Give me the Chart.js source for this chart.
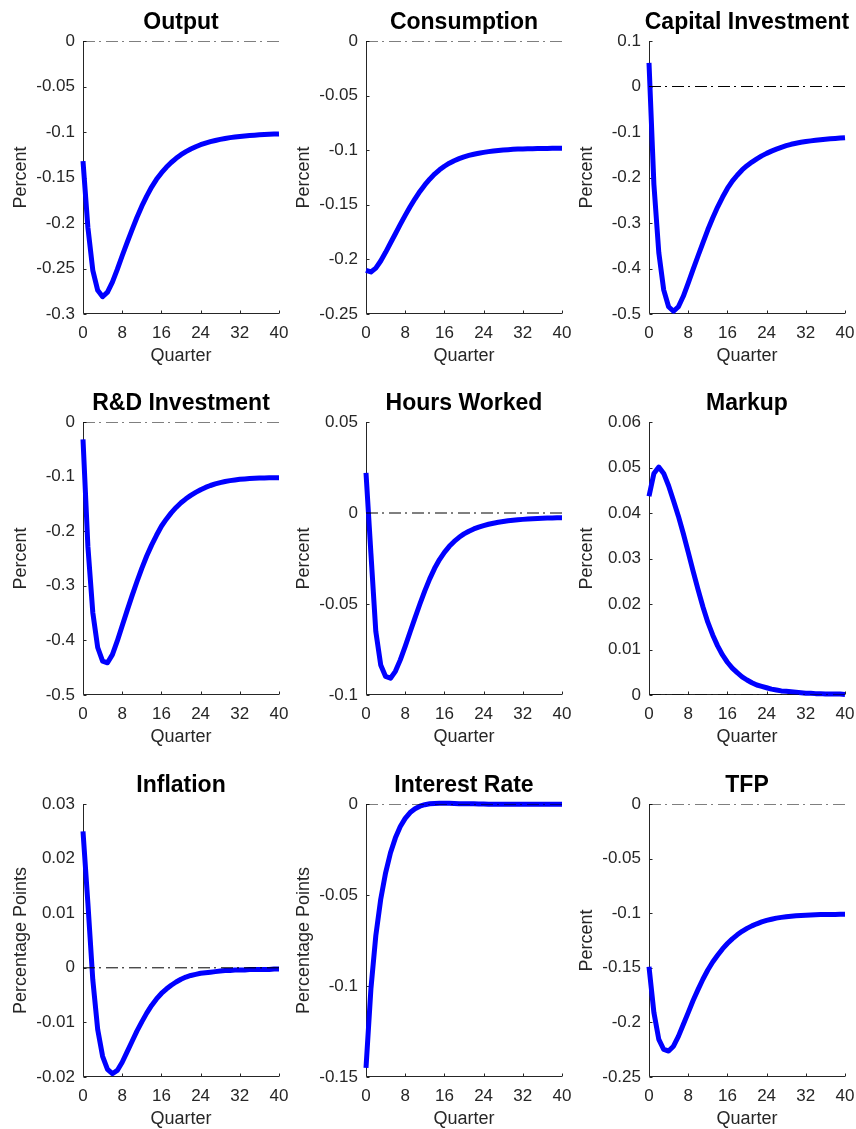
<!DOCTYPE html>
<html>
<head>
    <title>Impulse responses</title>
    <script src="https://cdn.jsdelivr.net/npm/chart.js"></script>
    <style>
        html, body { margin: 0; padding: 0; background: #fff; overflow: hidden; }
        #fig { position: relative; width: 856px; height: 1129px; }
        #fig canvas { position: absolute; }
    </style>
</head>
<body>
    <div id="fig"></div>
    <script>
        const quarters = [0, 1, 2, 3, 4, 5, 6, 7, 8, 9, 10, 11, 12, 13, 14, 15, 16, 17, 18, 19, 20,
            21, 22, 23, 24, 25, 26, 27, 28, 29, 30, 31, 32, 33, 34, 35, 36, 37, 38, 39, 40];
        const xTicks = [0, 8, 16, 24, 32, 40];

        const titles = ['Output', 'Consumption', 'Capital Investment',
            'R&D Investment', 'Hours Worked', 'Markup',
            'Inflation', 'Interest Rate', 'TFP'];
        const yLabels = ['Percent', 'Percent', 'Percent',
            'Percent', 'Percent', 'Percent',
            'Percentage Points', 'Percentage Points', 'Percent'];
        const yMin = [-0.3, -0.25, -0.5, -0.5, -0.1, 0, -0.02, -0.15, -0.25];
        const yMax = [0, 0, 0.1, 0, 0.05, 0.06, 0.03, 0, 0];
        const yStep = [0.05, 0.05, 0.1, 0.1, 0.05, 0.01, 0.01, 0.05, 0.05];

        const output = [-0.132, -0.205, -0.252, -0.274, -0.281, -0.276, -0.265, -0.251, -0.236, -0.2215,
            -0.2075, -0.194, -0.1815, -0.1705, -0.1605, -0.152, -0.145, -0.1388, -0.1335, -0.1289,
            -0.1249, -0.1216, -0.1187, -0.1162, -0.114, -0.1122, -0.1106, -0.1093, -0.1081, -0.1071,
            -0.1062, -0.1055, -0.1049, -0.1043, -0.1039, -0.1035, -0.1031, -0.1028, -0.1025, -0.1023, -0.1021];
        const consumption = [-0.210, -0.2115, -0.208, -0.2015, -0.1935, -0.185, -0.1765, -0.168, -0.1597, -0.1518,
            -0.1445, -0.1378, -0.1318, -0.1265, -0.1219, -0.118, -0.1147, -0.1119, -0.1096, -0.1077,
            -0.1061, -0.1048, -0.1037, -0.1028, -0.102, -0.1013, -0.1007, -0.1002, -0.0998, -0.0995,
            -0.0992, -0.099, -0.0988, -0.0987, -0.0986, -0.0985, -0.0984, -0.0984, -0.0983, -0.0983, -0.0983];
        const capitalInvestment = [0.052, -0.215, -0.365, -0.447, -0.484, -0.494, -0.484, -0.461, -0.432, -0.402,
            -0.3725, -0.3435, -0.315, -0.289, -0.265, -0.2435, -0.224, -0.208, -0.195, -0.1835,
            -0.174, -0.166, -0.159, -0.1525, -0.147, -0.142, -0.1376, -0.1336, -0.13, -0.127,
            -0.1246, -0.1226, -0.121, -0.1195, -0.1182, -0.117, -0.116, -0.115, -0.1141, -0.1133, -0.1125];
        const rdInvestment = [-0.032, -0.228, -0.349, -0.413, -0.438, -0.441, -0.426, -0.401, -0.373, -0.3455,
            -0.3185, -0.2925, -0.268, -0.2455, -0.2255, -0.2075, -0.191, -0.178, -0.1665, -0.1565,
            -0.148, -0.1407, -0.1344, -0.1289, -0.124, -0.1198, -0.1163, -0.1134, -0.111, -0.109,
            -0.1074, -0.1061, -0.105, -0.1042, -0.1036, -0.1031, -0.1027, -0.1024, -0.1022, -0.1021, -0.102];
        const hoursWorked = [0.022, -0.022, -0.065, -0.0835, -0.0898, -0.0908, -0.087, -0.0807, -0.0733, -0.0654,
            -0.0576, -0.05, -0.0428, -0.0362, -0.0304, -0.0256, -0.0216, -0.0183, -0.0156, -0.01335,
            -0.0115, -0.01, -0.00875, -0.00775, -0.0069, -0.0062, -0.0056, -0.0051, -0.0047, -0.0043,
            -0.004, -0.0037, -0.0035, -0.0033, -0.0031, -0.003, -0.0029, -0.0028, -0.0027, -0.0026, -0.0026];
        const markup = [0.0437, 0.0487, 0.0501, 0.0487, 0.046, 0.0427, 0.0393, 0.0355, 0.0314, 0.0272,
            0.0232, 0.0194, 0.016, 0.0132, 0.0108, 0.0088, 0.0072, 0.0059, 0.0049, 0.004,
            0.0033, 0.0027, 0.0022, 0.0019, 0.0016, 0.0013, 0.0011, 0.0009, 0.0008, 0.0007,
            0.0006, 0.0005, 0.0004, 0.0004, 0.0003, 0.0003, 0.0002, 0.0002, 0.0002, 0.0002, 0.0001];
        const inflation = [0.025, 0.0118, -0.0022, -0.0113, -0.0162, -0.0186, -0.0194, -0.0188, -0.0173, -0.0154,
            -0.0135, -0.0116, -0.0099, -0.0083, -0.0069, -0.0057, -0.0047, -0.0039, -0.0032, -0.0026,
            -0.0021, -0.0017, -0.0014, -0.0012, -0.001, -0.0009, -0.0008, -0.0007, -0.0006, -0.0005,
            -0.0005, -0.0004, -0.0004, -0.0004, -0.0003, -0.0003, -0.0003, -0.0003, -0.0003, -0.0002, -0.0002];
        const interestRate = [-0.145, -0.1017, -0.0724, -0.0524, -0.0378, -0.0268, -0.0186, -0.0124, -0.0079, -0.0047,
            -0.0026, -0.0012, -0.0004, 0.0001, 0.0003, 0.0004, 0.0004, 0.0004, 0.0003, 0.0002,
            0.0002, 0.0001, 0.0001, 0, 0, -0.0001, -0.0001, -0.0001, -0.0001, -0.0001,
            -0.0002, -0.0002, -0.0002, -0.0002, -0.0002, -0.0002, -0.0002, -0.0002, -0.0002, -0.0002, -0.0002];
        const tfp = [-0.149, -0.191, -0.2155, -0.2248, -0.2262, -0.2218, -0.2128, -0.202, -0.191, -0.18,
            -0.170, -0.1605, -0.152, -0.1447, -0.1385, -0.1327, -0.1278, -0.1235, -0.1198, -0.1166,
            -0.1139, -0.1116, -0.1097, -0.108, -0.1066, -0.1055, -0.1045, -0.1038, -0.1032, -0.1027,
            -0.1023, -0.102, -0.1018, -0.1016, -0.1014, -0.1013, -0.1012, -0.1011, -0.1011, -0.101, -0.101];

        const series = [output, consumption, capitalInvestment, rdInvestment, hoursWorked, markup,
            inflation, interestRate, tfp];

        const FONT = '"Liberation Sans", Arial, Helvetica, sans-serif';
        const AXIS = '#262626';

        //Matlab style axes: left + bottom line, short ticks pointing inside
        const inwardAxes = {
            id: 'inwardAxes',
            beforeDatasetsDraw(chart) {
                const { ctx, chartArea: a, scales: { x, y } } = chart;
                const lx = Math.round(a.left) + 0.5;
                const by = Math.round(a.bottom) - 0.5;
                ctx.save();
                ctx.strokeStyle = AXIS;
                ctx.lineWidth = 1;
                ctx.beginPath();
                ctx.moveTo(lx, a.top);
                ctx.lineTo(lx, by);
                ctx.lineTo(a.right, by);
                y.ticks.forEach(t => {
                    const py = Math.round(y.getPixelForValue(t.value)) + 0.5;
                    ctx.moveTo(lx, py);
                    ctx.lineTo(lx + 3, py);
                });
                x.ticks.forEach(t => {
                    const px = Math.round(x.getPixelForValue(t.value)) + 0.5;
                    ctx.moveTo(px, by);
                    ctx.lineTo(px, by - 3);
                });
                ctx.stroke();
                ctx.restore();
            }
        };

        //Panel title centred over the plot box
        const panelTitle = {
            id: 'panelTitle',
            afterDraw(chart, args, opts) {
                const { ctx, chartArea: a } = chart;
                ctx.save();
                ctx.font = 'bold 23px ' + FONT;
                ctx.fillStyle = '#000';
                ctx.textAlign = 'center';
                ctx.textBaseline = 'alphabetic';
                ctx.fillText(opts.text, (a.left + a.right) / 2, a.top - 12);
                ctx.restore();
            }
        };

        const fmt = v => {
            const r = Math.round(v * 1e6) / 1e6;
            return (r === 0 ? 0 : r).toString();
        };

        const fig = document.getElementById('fig');
        const rowTops = [0, 381, 763];

        titles.forEach((title, i) => {
            const col = i % 3, row = Math.floor(i / 3);
            const cv = document.createElement('canvas');
            cv.width = 362;
            cv.height = 380;
            cv.style.left = (col * 283) + 'px';
            cv.style.top = rowTops[row] + 'px';
            fig.appendChild(cv);

            new Chart(cv, {
                type: 'line',
                data: {
                    datasets: [
                        {
                            data: [{ x: quarters[0], y: 0 }, { x: quarters[quarters.length - 1], y: 0 }],
                            borderColor: '#000',
                            borderWidth: 1,
                            borderDash: [12, 4, 2, 5],
                            pointRadius: 0,
                            order: 0
                        },
                        {
                            data: quarters.map((q, k) => ({ x: q, y: series[i][k] })),
                            borderColor: '#0000ff',
                            borderWidth: 5,
                            borderJoinStyle: 'round',
                            pointRadius: 0,
                            tension: 0,
                            clip: false,
                            order: 1
                        }
                    ]
                },
                options: {
                    responsive: false,
                    animation: false,
                    events: [],
                    layout: { padding: { left: 0, right: 83, top: 41, bottom: 0 } },
                    plugins: {
                        legend: { display: false },
                        tooltip: { enabled: false },
                        panelTitle: { text: title }
                    },
                    scales: {
                        x: {
                            type: 'linear',
                            min: 0,
                            max: 40,
                            grid: { display: false, drawTicks: false },
                            border: { display: false },
                            afterBuildTicks: s => { s.ticks = xTicks.map(v => ({ value: v })); },
                            afterFit: s => { s.height = 66; },
                            ticks: { padding: 9, color: AXIS, maxRotation: 0, autoSkip: false, font: { family: FONT, size: 17 } },
                            title: { display: true, text: 'Quarter', color: AXIS, font: { family: FONT, size: 18 }, padding: { top: 0, bottom: 13 } }
                        },
                        y: {
                            min: yMin[i],
                            max: yMax[i],
                            grid: { display: false, drawTicks: false },
                            border: { display: false },
                            afterFit: s => { s.width = 83; },
                            ticks: { stepSize: yStep[i], padding: 8, color: AXIS, font: { family: FONT, size: 17 }, callback: fmt },
                            title: { display: true, text: yLabels[i], color: AXIS, font: { family: FONT, size: 18 }, padding: { top: 10, bottom: 0 } }
                        }
                    }
                },
                plugins: [inwardAxes, panelTitle]
            });
        });
    </script>
</body>
</html>
